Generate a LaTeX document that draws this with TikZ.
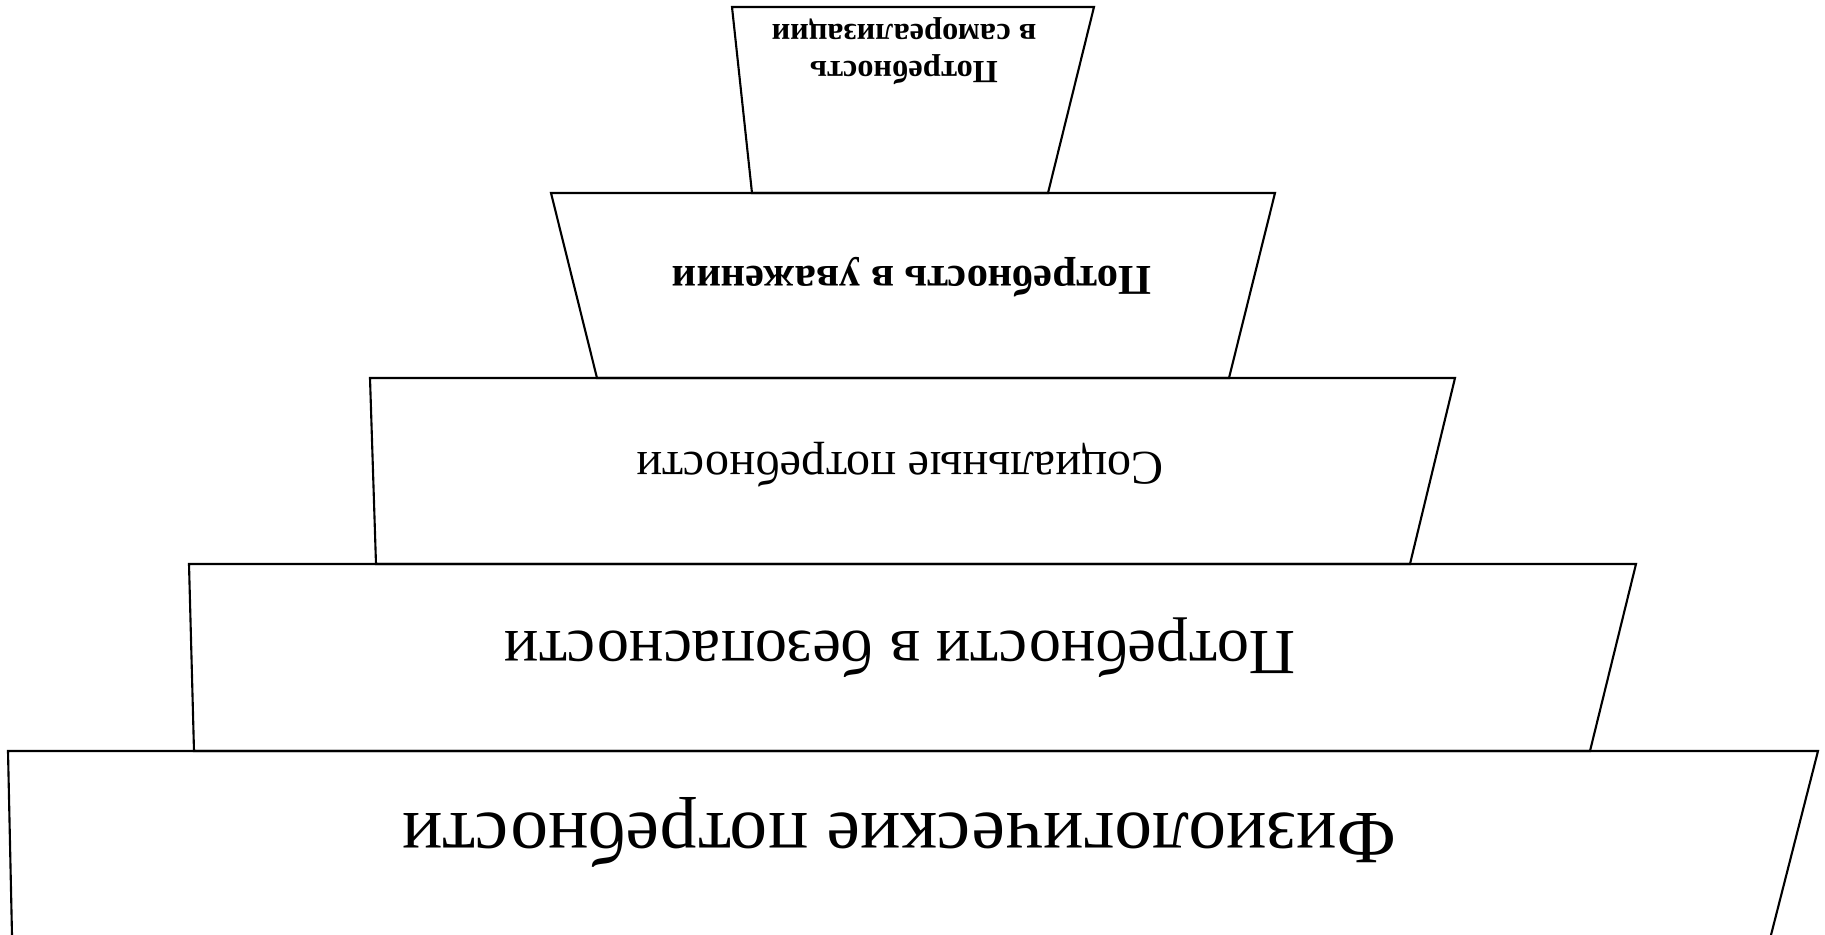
\documentclass[tikz,border=0pt]{standalone}
\usepackage{fontspec}
\setmainfont{Liberation Serif}
\usepackage{tikz}

\begin{document}
\begin{tikzpicture}
				[x=0.1mm,y=-0.1mm,line width=0.6pt,every node/.style={rotate=180,anchor=base,inner sep=0pt}]
				\useasboundingbox (0,0) rectangle (1825,935);
				% layers: top y / bottom y / corners
				\foreach \ty/\by/\tl/\tr/\bl/\br in {564/751/189/1636/194/1590,378/564/370/1455/376/1410,193/378/551/1275/597/1229,7/193/732/1094/752/1048}
				\draw (\bl,\by) -- (\tl,\ty) -- (\tr,\ty) -- (\br,\by) -- cycle;
				\draw (12,935) -- (8,751) -- (1818,751) -- (1771,935);
				
				\node (phys) at (899,813) {\fontsize{21.4}{26}\selectfont Физиологические потребности};
				\node (safe) at (900,632) {\fontsize{18.3}{22}\selectfont Потребности в безопасности};
				\node (soc) at (900,453) {\fontsize{13.7}{16}\selectfont Социальные потребности};
				\node (est) at (912,267) {\fontsize{12.1}{14}\selectfont\bfseries Потребность в уважении};
				\node[align=center,font=\bfseries\fontsize{9.2}{10.3}\selectfont] (self) at (904,25) {Потребность\\в самореализации};
				\end{tikzpicture}
\end{document}
